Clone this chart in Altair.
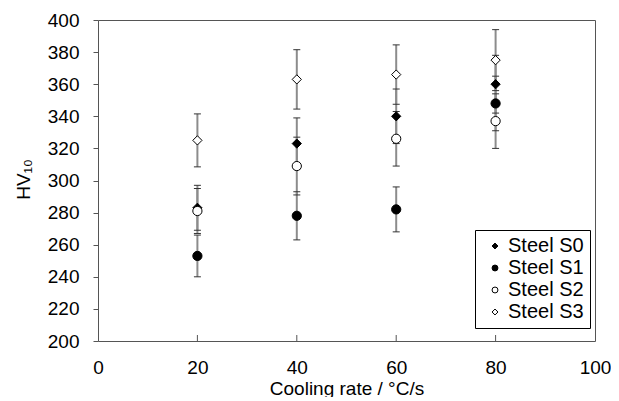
import altair as alt
import pandas as pd

rates = [20, 40, 60, 80]
steels = ["Steel S0", "Steel S1", "Steel S2", "Steel S3"]
hv_s0 = [283, 323, 340, 360]
err_s0 = [14, 16, 17, 18]
hv_s1 = [253, 278, 282, 348]
err_s1 = [13, 15, 14, 17]
hv_s2 = [281, 309, 326, 337]
err_s2 = [14, 18, 17, 17]
hv_s3 = [325, 363, 366, 375]
err_s3 = [16.5, 18.5, 18.5, 19]
x_ticks = [0, 20, 40, 60, 80, 100]
x_inner_ticks = [20, 40, 60, 80]
y_ticks = [200, 220, 240, 260, 280, 300, 320, 340, 360, 380, 400]

rows = []
for name, vals, errs in zip(steels, [hv_s0, hv_s1, hv_s2, hv_s3], [err_s0, err_s1, err_s2, err_s3]):
    for r, v, e in zip(rates, vals, errs):
        rows.append(dict(rate=r, steel=name, hv=v, lo=v - e, hi=v + e))
df = pd.DataFrame(rows)
caps = df.melt(id_vars=["rate", "steel"], value_vars=["lo", "hi"], value_name="cap")

FONT = "Liberation Sans"
FS = 19
W, H = 497, 321

xscale = alt.Scale(domain=[0, 100], nice=False)
yscale = alt.Scale(domain=[200, 400], nice=False)
xaxis = alt.Axis(values=x_ticks, ticks=False, labelPadding=17, grid=False, domain=False,
                 labelFlush=False,
                 title="Cooling rate / °C/s", titleY=53, titleBaseline="alphabetic",
                 labelFontSize=FS, titleFontSize=FS, labelColor="black", titleColor="black",
                 labelFont=FONT, titleFont=FONT, titleFontWeight="normal")
yaxis = alt.Axis(values=y_ticks, tickSize=5, tickColor="#555", labelPadding=14, grid=False, domain=False,
                 title="HV₁₀", titleAngle=270, titleX=-75, titleY=159, titleAlign="center",
                 titleBaseline="middle",
                 labelFontSize=FS, titleFontSize=FS, labelColor="black", titleColor="black",
                 labelFont=FONT, titleFont=FONT, titleFontWeight="normal")

X = alt.X("rate:Q", scale=xscale, axis=xaxis)

bars = alt.Chart(df).mark_rule(color="#8c8c8c", strokeWidth=2).encode(
    x=X,
    y=alt.Y("lo:Q", scale=yscale, axis=yaxis),
    y2="hi:Q",
)

capmarks = alt.Chart(caps).mark_tick(orient="horizontal", size=7, thickness=1, color="#333", opacity=1).encode(
    x=X,
    y=alt.Y("cap:Q", scale=yscale, axis=yaxis),
)

leg = alt.Legend(title=None, orient="none", legendX=377, legendY=210, strokeColor="black",
                 fillColor="white", padding=6, rowPadding=2, symbolOffset=4, labelOffset=3,
                 labelFontSize=20, labelFont=FONT, labelColor="black", symbolSize=35,
                 symbolStrokeColor="black", symbolStrokeWidth=1, cornerRadius=0)

points = alt.Chart(df).mark_point(strokeWidth=1, opacity=1, fillOpacity=1, size=85).encode(
    x=X,
    y=alt.Y("hv:Q", scale=yscale, axis=yaxis),
    fill=alt.Fill("steel:N", scale=alt.Scale(domain=steels, range=["black", "black", "white", "white"]), legend=leg),
    stroke=alt.Stroke("steel:N", scale=alt.Scale(domain=steels, range=["black", "black", "black", "black"]), legend=leg),
    shape=alt.Shape("steel:N", scale=alt.Scale(domain=steels, range=["diamond", "circle", "circle", "diamond"]), legend=leg),
)

ticks_in = alt.Chart(pd.DataFrame({"t": x_inner_ticks})).mark_rule(color="#555").encode(
    x=alt.X("t:Q", scale=xscale, axis=xaxis),
    y=alt.value(H),
    y2=alt.value(H - 6),
)

chart = alt.layer(bars, capmarks, ticks_in, points).properties(
    width=W, height=H,
    autosize=alt.AutoSizeParams(type="none"),
    padding={"left": 90, "top": 12, "right": 16, "bottom": 56},
    background="white",
).configure_view(stroke="#555", strokeWidth=1)

chart.save("out.html", embed_options={"renderer": "svg", "actions": False})
